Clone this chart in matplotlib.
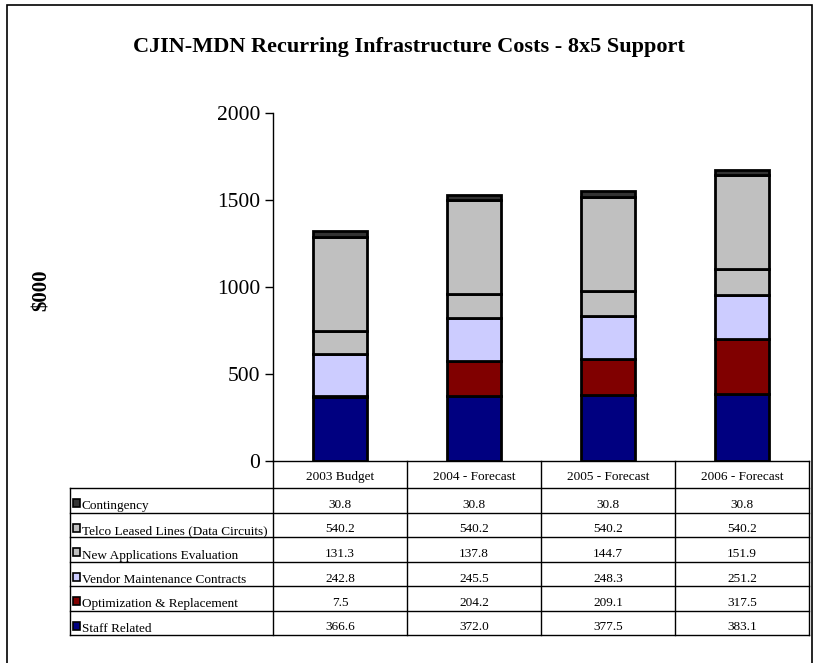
import matplotlib
matplotlib.use("Agg")
import matplotlib.pyplot as plt
from matplotlib.patches import Rectangle
import numpy as np

plt.rcParams["font.family"] = ["Liberation Serif", "DejaVu Serif"]

# Categories (x axis / table columns)
YEARS = ["2003 Budget", "2004 - Forecast", "2005 - Forecast", "2006 - Forecast"]

# Series values ($000), listed bottom-of-stack first
STAFF = [366.6, 372.0, 377.5, 383.1]
OPTIM = [7.5, 204.2, 209.1, 317.5]
VENDOR = [242.8, 245.5, 248.3, 251.2]
NEWAPPS = [131.3, 137.8, 144.7, 151.9]
TELCO = [540.2, 540.2, 540.2, 540.2]
CONTINGENCY = [30.8, 30.8, 30.8, 30.8]

LABELS = ["Staff Related", "Optimization & Replacement", "Vendor Maintenance Contracts",
          "New Applications Evaluation", "Telco Leased Lines (Data Circuits)", "Contingency"]
COLORS = ["#000080", "#800000", "#CCCCFF", "#C0C0C0", "#C0C0C0", "#333333"]
SERIES = [STAFF, OPTIM, VENDOR, NEWAPPS, TELCO, CONTINGENCY]

W, H = 816, 663
fig = plt.figure(figsize=(W / 100, H / 100), dpi=100)


def box(x0, y0, x1, y1):
    """pixel box (top-left origin) -> figure fraction rect"""
    return [x0 / W, 1 - y1 / H, (x1 - x0) / W, (y1 - y0) / H]


# outer frame
fig.patches.append(Rectangle((7 / W, -0.05), (812 - 7) / W, 1.05 - 5 / H,
                             transform=fig.transFigure, fill=False,
                             edgecolor="black", linewidth=1.2))

fig.text(409 / W, 1 - 47 / H, "CJIN-MDN Recurring Infrastructure Costs - 8x5 Support",
         ha="center", va="center", fontsize=16, fontweight="bold")
fig.text(42 / W, 1 - 290 / H, "\\$000", rotation=90, ha="center", va="center",
         fontsize=15, fontweight="bold")

# --- stacked bars ---
X0, X1, YTOP, YBOT = 273, 809, 113, 461
ax = fig.add_axes(box(X0, YTOP, X1, YBOT))
x = np.arange(len(YEARS))
bottom = np.zeros(len(YEARS))
for vals, c in zip(SERIES, COLORS):
    ax.bar(x, vals, bottom=bottom, width=0.4, color=c, edgecolor="black", linewidth=2.0)
    bottom += np.array(vals)

ax.set_xlim(-0.5, len(YEARS) - 0.5)
ax.set_ylim(0, 2000)
ax.set_yticks([0, 500, 1000, 1500, 2000])
ax.tick_params(axis="y", direction="out", length=6, width=1, labelsize=15.5, pad=3)
ax.set_xticks([])
for s in ["top", "right"]:
    ax.spines[s].set_visible(False)
ax.spines["left"].set_linewidth(1)
ax.spines["bottom"].set_linewidth(1)

# --- data table ---
LX0, TBOT = 70, 635
col_w = (X1 - X0) / len(YEARS)
lab_w = (X0 - LX0) / col_w
tx = fig.add_axes(box(LX0, YBOT, X1, TBOT))
tx.set_xlim(-0.5 - lab_w, len(YEARS) - 0.5)
tx.set_ylim(TBOT, YBOT)
tx.axis("off")

head_b = 488
row_h = (TBOT - head_b) / len(SERIES)
lw = 1.0
# header
for i, name in enumerate(YEARS):
    tx.text(i, head_b - 8, name, ha="center", va="baseline", fontsize=9.5)
for i in range(len(YEARS) + 1):
    tx.plot([i - 0.5, i - 0.5], [YBOT, TBOT], color="black", lw=lw, clip_on=False)
tx.plot([-0.5 - lab_w, -0.5 - lab_w], [head_b, TBOT], color="black", lw=lw, clip_on=False)
for r in range(len(SERIES) + 1):
    yy = head_b + r * row_h
    tx.plot([-0.5 - lab_w, len(YEARS) - 0.5], [yy, yy], color="black", lw=lw, clip_on=False)

# rows, top = last series
for r, k in enumerate(reversed(range(len(SERIES)))):
    top = head_b + r * row_h
    px = -0.5 - lab_w + 2.5 / col_w
    tx.add_patch(Rectangle((px, top + 11), 7.5 / col_w, 8, facecolor=COLORS[k],
                           edgecolor="black", linewidth=1.2, clip_on=False))
    tx.text(-0.5 - lab_w + 12 / col_w, top + 21.5, LABELS[k], ha="left",
            va="baseline", fontsize=9.5)
    for i, v in enumerate(SERIES[k]):
        tx.text(i, top + 20, f"{v:.1f}", ha="center", va="baseline", fontsize=9.5)

fig.savefig("out.png", dpi=100)
